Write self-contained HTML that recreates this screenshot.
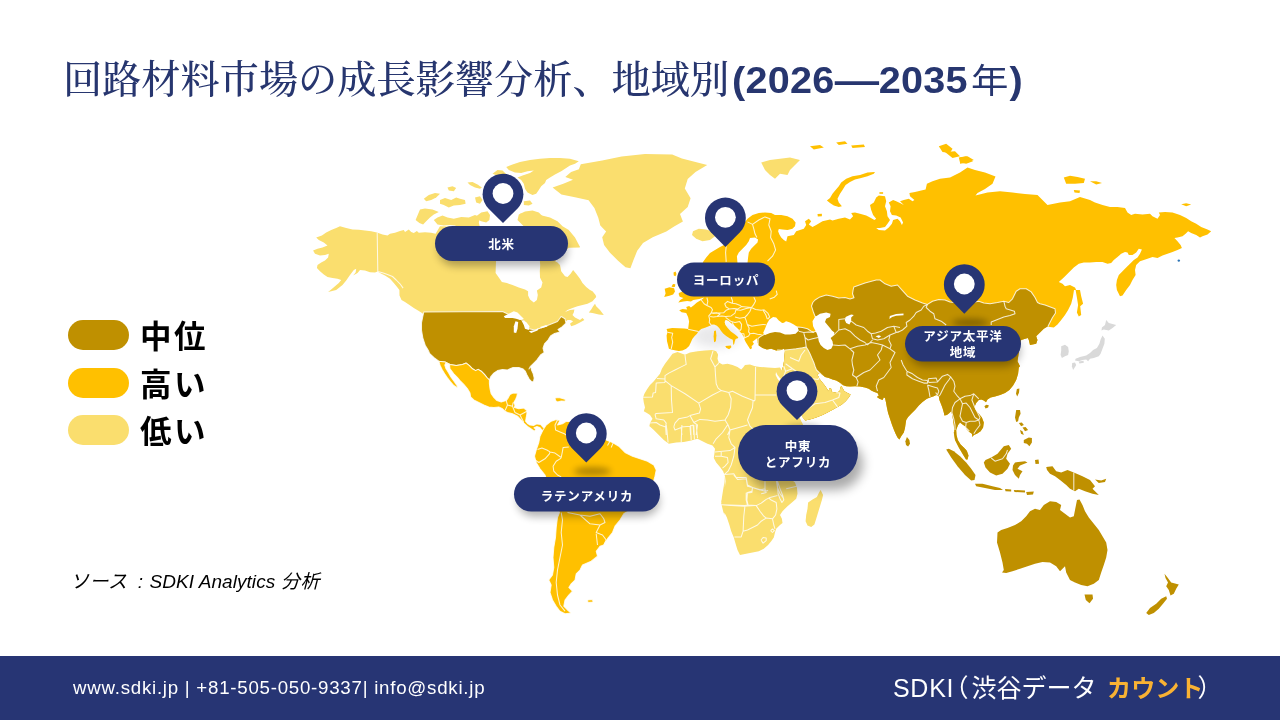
<!DOCTYPE html>
<html lang="ja">
<head>
<meta charset="utf-8">
<title>回路材料市場の成長影響分析、地域別(2026—2035年)</title>
<style>
html,body{margin:0;padding:0;}
body{width:1280px;height:720px;overflow:hidden;background:#fff;position:relative;font-family:"Liberation Sans","Noto Sans CJK JP",sans-serif;}
.title{position:absolute;left:63px;top:52px;margin:0;white-space:nowrap;color:#27366F;font-weight:500;font-size:39.2px;line-height:56px;font-family:"Liberation Serif","Noto Serif CJK JP","Noto Serif CJK SC",serif;letter-spacing:0;}
.title b{display:inline-block;transform:scaleX(1.085);transform-origin:0 50%;font-family:"Liberation Sans","Noto Sans CJK JP",sans-serif;font-weight:700;font-size:36.5px;letter-spacing:.2px;margin-left:2.5px;}
.title .d{display:inline-block;transform:scaleX(1.12);transform-origin:50% 50%;margin:0 2.2px;letter-spacing:0;}
.title .yr{font-family:"Liberation Sans","Noto Sans CJK JP",sans-serif;font-weight:400;font-size:34.5px;letter-spacing:0;margin:0 1px 0 3px;}
.legend{position:absolute;left:68px;top:320px;}
.legend .row{position:absolute;left:0;height:30px;white-space:nowrap;}
.legend .sw{position:absolute;left:0;top:0;width:61px;height:30px;border-radius:15px;}
.legend .tx{position:absolute;left:72px;top:-6px;font-size:31.5px;line-height:46px;font-weight:700;color:#000;letter-spacing:2.5px;font-family:"Liberation Sans","Noto Sans CJK JP",sans-serif;}
.src{position:absolute;left:70px;top:568.5px;font-size:19px;letter-spacing:.45px;line-height:26px;font-style:italic;color:#000;white-space:nowrap;font-family:"Liberation Sans","Noto Sans CJK JP",sans-serif;}
.src .c{margin-left:4.5px;margin-right:.5px;}
.src .la{letter-spacing:.05px;}
.footer{position:absolute;left:0;top:656px;width:1280px;height:64px;background:#273574;}
.footer .l{position:absolute;left:73px;top:19px;color:#fff;font-size:18.7px;letter-spacing:.75px;line-height:26px;white-space:nowrap;}
.footer .r{position:absolute;left:893px;top:16.6px;color:#fff;font-size:25px;line-height:30px;white-space:nowrap;}
.footer .r i{font-style:normal;font-feature-settings:"palt";}
.footer .r .s{letter-spacing:.7px;}
.footer .r .p1{margin-left:-6px;margin-right:3.9px;}
.footer .r b{margin-left:3.6px;font-size:24.1px;}
.footer .r .p2{margin-left:-5px;}
.footer .r b{color:#F9B233;font-weight:700;}
svg{position:absolute;left:0;top:0;}
.lb{font-family:"Liberation Sans","Noto Sans CJK JP",sans-serif;font-weight:700;font-size:12.5px;letter-spacing:.8px;fill:#fff;}
</style>
</head>
<body>
<h1 class="title">回路材料市場の成長影響分析、地域別<b>(2026<span class="d">—</span>2035<span class="yr">年</span>)</b></h1>
<svg width="1280" height="720" viewBox="0 0 1280 720">
<defs>
<filter id="blur3" x="-50%" y="-200%" width="200%" height="500%"><feGaussianBlur stdDeviation="3"/></filter>
<filter id="blur6" x="-20%" y="-50%" width="140%" height="220%"><feGaussianBlur stdDeviation="5.5"/></filter>
<filter id="blur4" x="-20%" y="-50%" width="140%" height="220%"><feGaussianBlur stdDeviation="4.5"/></filter>
</defs>
<ellipse cx="716" cy="336" rx="24" ry="11" fill="#223" opacity=".1" filter="url(#blur6)"/>
<g id="map">
<path fill="#FADE6E" d="M376.9,232.5 371.2,231.2 365.0,230.6 358.8,229.8 352.5,229.4 346.2,228.1 340.0,226.2 336.2,228.1 331.2,230.0 326.2,232.5 321.9,235.6 316.2,237.5 318.8,240.0 323.8,242.5 327.5,245.6 322.5,247.5 317.5,248.8 313.1,250.6 315.0,253.8 320.0,255.6 325.0,255.0 328.8,253.8 328.1,257.5 325.0,260.6 321.2,262.5 317.5,265.0 316.9,268.1 320.0,271.2 323.8,274.4 327.5,276.9 332.5,278.1 337.5,278.8 341.2,280.0 338.8,283.1 335.0,286.2 331.2,289.4 328.1,291.9 336.2,290.0 342.5,285.0 346.2,280.6 350.0,275.0 353.8,270.0 356.2,268.8 355.6,272.5 353.1,275.6 357.5,273.1 360.0,270.0 365.0,270.6 370.0,272.2 375.0,272.5 377.5,271.5 380.0,273.1 385.0,275.6 390.0,278.8 393.8,283.1 397.5,287.5 399.4,290.0 399.5,295.5 401.5,300.0 405.0,302.0 409.5,305.0 413.8,308.0 418.0,310.5 422.0,313.0 423.8,314.5 430.0,325.0 525.0,335.0 550.0,330.0 561.2,320.0 566.2,321.2 567.5,320.0 570.6,320.0 573.1,321.2 570.0,323.8 571.2,326.2 575.0,325.0 580.0,322.5 584.4,320.0 582.5,318.1 580.0,320.0 575.0,317.5 572.5,315.0 573.8,312.5 574.4,309.4 570.0,310.0 565.0,311.9 567.5,310.0 572.5,308.1 577.5,306.2 582.5,305.0 587.5,303.8 592.5,301.2 596.2,296.9 595.6,295.0 592.5,291.2 590.0,290.0 586.2,286.9 582.5,283.1 580.0,278.8 576.2,273.8 573.1,270.0 570.6,273.8 567.5,276.9 565.0,276.2 561.2,271.2 560.0,265.0 557.5,262.5 555.0,261.2 568.8,247.5 580.0,247.5 575.0,241.2 568.8,240.0 568.8,230.0 440.0,226.2 435.6,233.8 431.2,232.8 425.0,232.2 418.8,232.8 416.9,231.0 413.8,233.1 411.2,231.9 408.8,229.4 405.0,231.9 403.8,230.0 400.0,231.0 395.0,232.8 390.0,233.8 387.5,235.6 382.5,234.4Z"/>
<path fill="#FFFFFF" d="M496.2,255.0 495.6,273.1 498.8,277.5 501.9,281.9 506.9,283.1 512.5,285.0 518.8,287.5 525.0,289.4 528.1,291.2 528.1,295.6 530.0,299.4 533.8,302.5 536.9,300.0 537.8,295.0 536.9,290.6 541.2,287.5 542.5,282.5 540.0,277.5 539.8,271.2 540.2,265.0 539.4,255.0Z"/>
<path fill="#FADE6E" d="M595.0,303.8 596.2,306.2 600.0,310.0 603.8,315.0 598.8,314.4 592.5,313.1 588.8,312.5 591.2,309.4 593.1,306.2Z"/>
<path fill="#BF9000" stroke="#fff" stroke-opacity=".82" stroke-width="1.05" stroke-linejoin="round" d="M423.8,312.0 502.5,311.5 508.8,314.5 517.5,318.0 523.8,320.5 528.8,328.8 535.0,330.0 543.8,327.0 550.0,324.5 557.5,321.5 561.2,316.5 565.0,318.8 566.0,323.2 562.0,327.0 558.0,329.5 560.0,332.0 554.5,333.5 550.5,336.0 548.0,340.0 544.5,343.8 543.0,348.2 544.2,352.5 540.5,355.0 536.8,360.0 531.8,365.0 529.0,369.0 530.6,366.0 531.5,370.0 533.2,373.8 534.2,378.1 533.5,381.5 531.8,381.8 529.2,379.0 527.0,375.0 525.2,371.0 523.2,369.0 518.8,367.5 513.1,367.5 510.0,368.8 507.5,370.0 502.5,369.4 497.5,370.6 493.8,373.1 490.6,376.9 489.4,380.0 486.9,377.5 484.4,374.4 481.2,371.2 478.1,369.4 475.6,370.6 472.5,368.8 469.4,365.6 466.2,363.1 462.5,364.4 456.2,365.6 450.0,364.4 445.0,361.9 438.8,361.2 433.8,357.5 430.0,353.8 427.5,350.0 429.0,351.5 425.2,345.2 422.8,337.8 421.5,330.2 421.5,322.8 422.8,316.5Z"/>
<path fill="#FFFFFF" d="M503.8,316.2 508.8,313.8 513.8,311.2 517.5,312.5 521.2,316.2 523.8,318.8 520.0,320.0 516.2,318.8 512.5,318.1 508.8,318.1 505.0,318.1Z"/>
<path fill="#FFFFFF" d="M515.5,321.2 518.2,322.0 517.5,328.8 516.2,333.0 513.8,332.5 513.8,326.2Z"/>
<path fill="#FFFFFF" d="M521.2,320.0 526.2,322.0 529.5,326.2 528.8,330.0 525.0,328.8 523.8,325.0Z"/>
<path fill="#FFFFFF" d="M528.8,331.2 535.0,330.0 538.8,328.0 537.5,330.5 531.2,333.0Z"/>
<path fill="#FFFFFF" d="M540.0,327.0 546.2,325.0 547.5,326.5 541.2,328.2Z"/>
<path fill="#FFC000" stroke="#fff" stroke-opacity=".82" stroke-width="1.05" stroke-linejoin="round" d="M438.8,361.2 440.0,365.2 442.2,369.8 444.8,374.1 447.2,377.5 450.5,381.8 453.8,385.5 457.5,387.9 457.1,385.6 454.0,381.2 450.9,376.9 448.4,372.5 446.0,368.8 444.8,365.0 445.9,363.1 449.4,364.4 450.0,368.8 453.8,373.8 457.5,377.5 460.0,380.6 463.8,384.4 467.5,388.8 470.0,393.1 470.6,396.9 473.8,400.0 478.8,402.5 483.8,405.0 488.8,406.9 493.8,407.5 498.8,406.9 502.5,408.8 505.0,411.2 507.5,412.5 512.5,413.8 517.5,416.2 521.2,420.0 523.8,423.1 527.5,426.5 531.2,429.0 534.4,431.2 535.8,429.2 534.0,427.8 536.9,426.6 539.8,427.4 541.5,429.6 543.1,431.2 545.0,427.8 543.2,427.5 540.8,424.6 536.9,423.9 533.5,425.6 530.0,425.0 527.5,423.5 525.6,421.2 526.2,417.5 526.9,413.8 526.9,410.6 523.8,408.1 518.8,408.8 514.4,407.5 515.0,405.0 513.8,402.5 515.6,399.4 516.9,396.2 517.5,393.1 513.1,393.1 510.0,394.4 508.1,398.1 506.2,400.6 501.2,401.9 496.9,400.6 493.8,397.5 491.2,393.8 490.0,388.8 489.4,383.8 489.4,380.0 486.9,377.5 484.4,374.4 481.2,371.2 478.1,369.4 475.6,370.6 472.5,368.8 469.4,365.6 466.2,363.1 462.5,364.4 456.2,365.6 450.0,364.4 445.0,361.9Z"/>
<path fill="#FFC000" stroke="#fff" stroke-opacity=".82" stroke-width="1.05" stroke-linejoin="round" d="M555.0,398.1 558.8,397.5 562.5,398.5 565.6,399.4 565.0,401.2 561.2,401.0 557.5,401.9 555.6,400.6Z"/>
<path fill="#FADE6E" d="M415.6,220.0 420.0,209.4 425.0,208.5 432.5,209.4 438.8,211.9 433.8,214.4 430.0,217.5 426.2,221.2 423.1,224.4 419.4,223.1Z"/>
<path fill="#FADE6E" d="M433.8,220.0 437.5,217.5 442.5,215.6 447.5,217.5 453.8,218.8 461.2,216.9 468.8,217.5 475.0,215.0 480.0,216.9 478.8,222.5 480.0,227.5 475.0,229.4 467.5,228.5 460.0,228.1 455.0,225.6 450.0,225.0 443.8,225.6 437.5,224.4Z"/>
<path fill="#FADE6E" d="M423.8,198.8 428.8,195.0 435.0,193.1 440.0,193.8 436.2,197.5 431.2,200.0 426.2,201.2Z"/>
<path fill="#FADE6E" d="M440.0,200.0 445.0,198.1 451.2,200.0 456.2,197.5 460.0,198.8 465.0,200.0 465.6,203.8 460.0,205.0 453.8,205.6 448.8,207.5 443.8,205.0 440.0,203.8Z"/>
<path fill="#FADE6E" d="M447.5,187.5 452.5,186.2 456.2,188.1 453.8,191.2 448.8,190.6Z"/>
<path fill="#FADE6E" d="M467.5,182.5 472.5,181.9 477.5,184.4 481.9,187.5 480.0,188.8 475.0,187.5 470.0,185.0Z"/>
<path fill="#FADE6E" d="M475.0,197.5 480.0,196.2 482.5,200.0 480.0,203.8 476.2,202.5Z"/>
<path fill="#FADE6E" d="M476.2,216.2 481.2,212.5 487.5,211.2 490.0,215.0 489.4,220.0 486.2,222.5 481.2,221.2 477.5,219.4Z"/>
<path fill="#FADE6E" d="M506.2,166.9 512.5,164.4 520.0,161.9 530.0,160.0 540.0,158.8 550.0,158.1 560.0,158.1 570.0,158.8 578.8,161.2 575.0,163.8 570.0,165.6 566.2,168.1 561.2,171.2 555.0,174.4 550.0,177.5 546.2,180.0 545.0,183.1 541.2,186.2 538.8,190.0 536.2,193.8 532.5,195.0 527.5,192.5 525.0,188.8 523.8,183.8 521.2,180.0 517.5,177.5 522.5,175.6 530.0,173.1 533.8,170.6 527.5,171.2 521.2,173.1 515.0,172.5 508.8,170.0Z"/>
<path fill="#FADE6E" d="M492.5,173.8 497.5,170.0 502.5,170.6 505.6,173.5 508.8,176.2 505.0,177.5 498.8,176.2Z"/>
<path fill="#FADE6E" d="M523.8,201.2 530.0,200.6 532.5,203.8 528.8,205.6 523.8,205.0Z"/>
<path fill="#FADE6E" d="M517.5,220.0 518.8,214.4 525.0,211.5 532.5,210.6 538.8,212.5 542.5,216.2 547.5,220.0 552.5,223.8 557.5,226.9 560.0,232.5 530.0,232.5Z"/>
<path fill="#FADE6E" d="M520.0,213.8 532.5,211.2 540.0,215.0 550.0,217.5 557.5,221.2 562.5,226.2 568.8,230.0 575.0,237.5 580.0,247.0 568.8,247.5 560.0,242.5 550.0,237.5 540.0,230.0 530.0,225.0 522.5,220.0Z"/>
<path fill="#FADE6E" d="M580.8,164.3 602.2,160.4 621.6,156.5 645.0,154.0 672.2,154.6 681.9,158.5 707.2,164.9 695.5,172.1 687.7,178.9 684.8,188.6 690.6,198.3 687.7,207.1 680.0,213.9 682.9,221.6 674.1,226.5 666.3,231.4 652.7,237.2 643.0,243.0 637.2,250.8 633.3,260.5 630.4,268.3 625.5,267.3 617.8,260.5 610.0,252.7 604.1,245.0 602.2,237.2 606.1,231.4 600.3,225.5 598.3,217.8 594.4,208.0 588.6,200.3 575.0,197.3 561.4,194.4 552.6,187.6 563.3,183.7 573.0,179.8 565.3,176.9 571.1,172.1 578.9,169.2Z"/>
<path fill="#FADE6E" d="M693.0,231.2 698.8,228.8 706.2,229.5 713.8,232.0 715.0,236.2 710.0,240.0 702.5,241.2 696.2,238.8 692.0,235.0Z"/>
<path fill="#FADE6E" d="M761.2,162.5 770.0,160.0 780.0,158.8 790.0,157.5 800.0,160.0 795.0,165.0 790.0,170.0 787.5,175.0 780.0,173.8 775.0,178.8 770.0,175.0 765.0,170.0Z"/>
<path fill="#FFC000" stroke="#fff" stroke-opacity=".82" stroke-width="1.05" stroke-linejoin="round" d="M543.0,430.0 546.2,425.0 551.2,421.2 556.2,419.5 560.0,420.5 557.5,425.0 562.5,423.8 566.2,421.2 572.5,422.0 580.0,425.0 590.0,427.5 600.0,432.5 606.2,440.0 612.5,442.5 618.8,446.2 625.0,452.5 632.5,456.2 640.0,458.8 647.5,461.2 653.8,465.0 656.2,470.0 655.0,476.2 652.5,485.0 645.0,495.0 637.5,503.8 630.0,510.0 623.8,513.8 620.0,520.0 615.0,526.2 612.5,532.5 608.0,538.0 603.8,545.0 600.0,546.2 596.2,551.2 597.5,556.2 591.2,561.2 582.5,565.0 580.0,570.0 576.2,573.8 575.0,580.0 571.2,583.8 568.8,587.5 572.5,591.2 568.8,595.0 565.0,600.0 563.8,606.2 567.5,610.0 571.2,613.0 565.0,613.8 560.0,611.2 556.2,606.2 552.5,600.0 550.0,592.5 551.2,585.0 548.8,580.0 552.5,575.0 553.8,567.5 553.0,557.5 553.8,547.5 555.5,537.5 556.2,527.5 557.5,517.5 559.5,512.5 557.5,507.5 552.5,495.0 547.5,482.5 545.0,475.0 540.0,468.8 536.2,462.5 534.5,456.2 536.2,450.0 538.8,442.5 540.0,436.2Z"/>
<path fill="#FFC000" stroke="#fff" stroke-opacity=".82" stroke-width="1.05" stroke-linejoin="round" d="M587.5,600.0 592.5,599.5 593.0,602.0 588.0,602.5Z"/>
<clipPath id="eu"><path d="M747.5,218.8 752.5,215.0 758.8,213.1 765.0,212.5 771.2,213.1 775.0,215.0 781.2,215.0 787.5,216.2 792.5,218.8 795.6,222.5 795.0,226.2 792.5,228.8 787.5,230.0 782.5,229.4 778.8,229.0 778.1,231.2 779.4,234.4 781.2,237.5 783.8,240.0 786.2,241.5 787.5,236.2 793.8,235.0 796.2,231.2 803.8,228.8 806.2,225.0 805.0,221.2 808.8,218.8 811.2,221.2 808.8,224.4 812.5,226.9 816.2,225.0 822.5,221.2 830.0,219.4 832.5,220.6 838.8,218.8 845.0,217.5 850.0,219.4 853.1,216.2 851.2,213.1 855.0,212.5 860.0,213.8 866.2,215.6 870.0,217.5 874.4,220.0 876.2,218.8 873.1,215.0 871.2,210.0 870.0,205.0 873.8,202.5 876.2,197.5 878.8,195.6 885.0,196.2 886.2,201.2 885.0,206.2 886.9,211.2 887.5,216.2 890.0,220.0 887.5,223.8 885.0,226.9 880.0,228.1 876.2,228.1 878.8,230.0 885.0,230.6 888.8,227.5 891.9,223.8 893.1,220.0 897.5,218.8 900.0,221.2 901.9,225.0 903.1,222.5 900.6,217.5 896.2,215.6 891.9,215.0 890.0,211.2 890.6,206.2 888.8,202.5 893.1,200.0 896.2,201.2 900.0,203.1 903.8,205.0 900.0,201.2 903.8,200.0 908.8,198.8 912.5,201.2 914.4,200.0 910.0,196.2 909.4,193.1 915.0,191.9 921.2,190.6 925.6,189.4 926.9,183.8 932.5,181.2 940.0,178.8 950.0,177.5 960.0,172.5 967.5,167.5 975.0,170.0 985.0,172.5 995.5,176.5 992.5,183.8 985.0,189.0 977.5,193.0 975.5,195.5 987.5,192.5 1000.0,191.2 1012.5,192.5 1025.0,194.0 1037.5,195.0 1040.0,197.5 1047.5,205.0 1060.0,202.5 1070.0,201.2 1080.0,197.0 1090.0,200.0 1095.0,202.5 1102.5,205.0 1110.0,206.9 1117.5,206.9 1125.0,208.1 1127.5,212.5 1131.2,215.0 1135.0,213.8 1142.5,214.4 1150.0,213.8 1152.5,216.2 1157.5,218.8 1160.0,215.0 1158.8,212.5 1165.0,211.9 1172.5,212.5 1180.0,215.0 1186.2,218.1 1191.2,221.2 1196.2,223.8 1201.2,226.9 1207.5,229.4 1211.2,231.2 1207.5,234.4 1202.5,236.2 1200.0,237.5 1196.2,235.0 1191.2,233.1 1188.1,231.2 1185.6,233.8 1182.5,236.2 1177.5,237.5 1174.4,238.1 1177.5,241.2 1180.6,245.0 1181.9,248.1 1177.5,250.0 1172.5,251.9 1167.5,253.8 1162.5,255.6 1157.5,258.1 1152.5,256.9 1147.5,258.8 1143.8,260.0 1140.0,261.2 1136.2,265.0 1135.0,270.0 1135.6,275.0 1132.5,280.0 1130.0,285.0 1126.2,290.0 1122.5,295.6 1120.0,296.2 1116.9,290.0 1116.2,285.0 1116.9,280.0 1118.8,275.0 1122.5,271.2 1126.2,267.5 1130.0,263.8 1133.8,260.0 1137.5,257.5 1140.0,253.8 1141.9,249.4 1138.8,248.8 1136.2,252.5 1132.5,255.0 1128.8,255.0 1127.5,252.5 1125.0,251.9 1121.2,253.8 1117.5,256.9 1113.8,260.0 1111.2,263.1 1107.5,263.8 1102.5,261.9 1096.2,261.9 1090.0,262.5 1083.8,262.5 1078.8,263.8 1073.8,267.5 1068.8,272.5 1063.8,277.5 1058.8,281.9 1062.5,283.8 1065.0,286.2 1070.0,285.0 1075.0,287.5 1076.2,290.0 1075.0,290.0 1074.0,290.0 1072.8,297.5 1071.2,303.8 1068.1,310.0 1065.0,315.0 1061.2,320.0 1057.5,324.4 1053.8,327.5 1050.0,327.1 1047.5,326.5 1043.8,328.8 1040.0,332.5 1036.2,336.2 1037.5,340.0 1036.2,343.8 1030.0,345.0 1028.8,340.0 1027.8,338.1 1021.2,340.0 1020.0,343.8 1018.8,352.5 1017.5,361.2 1020.0,366.2 1018.8,367.5 1018.1,373.8 1016.2,380.0 1013.1,385.6 1009.4,390.0 1005.0,393.1 1000.0,395.0 995.0,396.5 990.6,397.5 987.5,399.4 986.0,402.2 983.8,400.6 981.2,399.4 978.8,400.0 976.2,403.1 974.4,406.9 975.6,410.0 978.8,413.8 981.9,417.5 983.8,422.5 983.1,427.5 980.6,431.2 976.9,433.8 973.8,435.0 972.5,436.9 971.9,433.8 969.4,431.9 966.9,429.4 965.0,426.2 962.5,424.4 960.0,422.5 958.1,425.0 956.9,428.1 956.2,430.0 956.5,435.0 957.8,440.0 960.6,444.4 963.8,447.5 966.2,450.0 967.0,451.2 968.5,455.5 967.5,459.5 966.0,459.5 962.5,453.8 958.8,447.5 955.0,440.0 953.8,432.5 954.4,431.2 953.8,425.0 953.1,420.0 952.2,415.0 951.2,411.2 949.4,413.1 946.9,415.0 944.4,415.6 943.8,412.5 942.5,408.1 941.2,404.4 939.4,400.0 938.8,396.2 936.2,395.0 933.8,396.2 930.0,397.5 926.9,398.8 922.5,401.9 918.8,405.6 915.0,410.0 911.2,413.8 908.1,416.9 906.2,420.0 905.6,423.8 905.0,428.1 903.8,432.5 901.2,436.2 899.4,439.4 897.5,437.5 895.6,433.8 893.8,429.4 891.9,424.4 890.0,418.8 888.1,413.1 886.9,407.5 886.0,402.5 885.0,398.1 883.8,397.5 882.5,400.0 879.4,398.8 876.9,396.9 878.8,395.6 877.5,393.1 874.4,391.9 871.2,390.6 868.8,388.8 865.0,387.5 860.0,386.5 855.0,386.2 850.0,386.5 846.2,386.2 842.5,385.0 840.0,382.8 836.2,380.6 832.5,379.4 828.8,378.1 825.0,376.9 821.9,374.4 820.0,372.5 817.5,374.8 820.2,379.8 822.8,383.1 825.2,385.9 827.1,389.0 828.5,391.2 829.5,388.1 831.2,388.8 831.8,391.8 836.2,392.8 839.6,391.2 840.4,387.5 841.2,385.9 842.5,388.1 844.4,391.2 847.5,393.1 850.6,394.4 848.8,397.5 845.6,401.2 841.9,404.4 837.5,406.9 833.1,409.4 827.5,412.5 822.5,415.0 817.5,416.9 812.5,418.8 807.5,420.0 805.0,420.6 802.5,417.5 798.8,410.0 793.8,400.0 788.8,390.0 783.8,382.5 781.9,379.4 781.5,375.0 781.9,370.6 783.1,366.2 784.0,361.2 784.4,356.2 784.8,352.5 785.0,350.6 783.8,348.8 781.2,350.0 776.2,350.6 771.2,348.8 766.9,349.4 762.5,348.1 758.8,345.6 757.5,342.5 757.5,341.2 757.0,338.9 758.0,337.0 758.1,337.5 756.7,338.4 754.4,340.3 752.5,341.7 753.9,343.6 753.0,345.0 751.6,345.9 752.0,348.3 750.2,349.2 748.8,346.9 746.9,344.1 745.5,341.7 744.5,339.4 743.6,336.6 741.7,333.8 739.4,330.9 736.6,328.1 733.8,325.3 730.9,323.0 728.6,321.1 726.2,319.9 725.5,319.9 724.6,322.0 725.3,324.8 727.7,328.1 730.9,331.4 734.7,334.2 737.5,336.6 738.4,338.0 735.6,338.9 734.7,341.7 734.2,344.1 733.3,345.0 732.8,339.8 730.0,338.4 726.2,336.1 723.4,333.8 721.1,330.9 719.2,328.1 716.9,325.8 714.1,324.6 710.3,324.8 711.1,325.3 708.8,326.2 705.0,327.7 701.2,329.1 698.4,331.4 697.0,333.8 694.7,336.1 692.3,338.9 690.9,342.2 689.1,345.9 686.2,348.8 682.5,350.6 678.8,351.1 675.9,350.6 672.2,349.7 668.9,348.8 668.0,345.0 667.0,341.2 666.6,335.6 667.5,331.9 666.6,329.1 672.2,327.9 678.8,328.3 684.4,328.6 688.1,329.1 688.6,325.3 689.1,321.6 688.1,316.9 686.2,313.1 681.6,312.2 679.2,310.3 682.5,308.9 687.2,309.4 686.2,307.0 689.1,306.1 690.9,307.5 693.8,305.2 696.6,302.8 699.4,300.9 701.2,300.0 704.1,297.7 693.0,290.0 700.0,275.0 703.0,262.0 706.2,257.5 710.0,253.1 715.0,250.0 720.0,246.9 725.0,244.4 730.0,240.0 735.0,234.4 740.0,228.1 745.0,221.9Z"/></clipPath>
<g clip-path="url(#eu)"><rect x="600" y="100" width="700" height="400" fill="#FFC000"/>
<path fill="#BF9000" stroke="#fff" stroke-opacity=".82" stroke-width="1.05" stroke-linejoin="round" d="M758.1,345.0 758.1,338.5 760.0,336.9 763.1,335.0 777.5,327.5 798.1,326.9 802.5,327.5 807.5,328.8 811.2,331.2 813.8,332.1 820.0,330.0 820.0,318.8 815.0,316.2 813.1,311.2 811.5,306.2 812.8,302.5 815.0,300.0 820.0,296.9 826.2,295.0 832.5,296.2 838.8,298.1 845.0,297.5 850.0,299.0 854.0,297.8 852.5,293.8 853.1,290.0 853.8,287.0 865.0,283.0 876.2,280.0 880.0,280.0 885.0,283.8 891.2,286.2 897.5,285.0 902.5,290.6 907.5,296.2 915.0,300.0 922.5,303.1 927.5,304.4 932.5,301.2 938.8,299.4 945.0,300.0 950.0,301.9 965.0,303.8 978.8,301.2 983.8,303.1 990.0,303.8 997.5,302.5 1003.8,301.2 1008.8,302.5 1012.5,298.8 1016.2,291.2 1020.0,288.8 1026.2,288.8 1031.2,291.9 1035.0,297.5 1037.5,302.5 1040.0,303.8 1045.0,305.0 1055.0,308.8 1055.5,313.0 1052.5,317.5 1048.0,326.2 1050.0,331.2 1300.0,400.0 1300.0,720.0 755.0,720.0 755.0,350.0Z"/>
<path fill="#FADE6E" stroke="#fff" stroke-opacity=".82" stroke-width="1.05" stroke-linejoin="round" d="M783.1,350.2 790.0,349.5 796.2,348.8 802.5,347.8 806.2,346.9 808.1,350.0 810.0,353.8 811.9,358.1 813.8,362.5 815.0,366.2 816.5,370.0 821.2,374.4 827.5,380.6 835.0,386.2 838.8,386.2 841.0,384.2 846.2,389.4 852.5,391.2 852.5,437.5 777.5,437.5 777.5,350.0Z"/>
<path fill="#FFFFFF" d="M763.1,333.1 765.0,328.8 766.9,323.8 769.4,319.4 773.1,316.9 776.2,317.5 778.8,320.6 782.5,323.1 786.2,321.2 790.0,322.5 793.8,324.4 797.5,326.9 798.8,330.6 795.6,333.8 790.0,334.4 785.0,334.4 780.0,332.5 775.0,331.9 770.0,333.1 765.0,335.0Z"/>
<path fill="#FFC000" d="M779.4,320.0 782.5,318.8 785.6,320.0 784.4,322.5 781.9,322.8Z"/>
<path fill="#FFFFFF" d="M812.5,321.2 815.0,316.9 820.0,313.8 826.2,312.5 830.6,313.8 830.0,316.9 826.2,318.8 825.0,321.9 827.5,325.0 830.0,328.1 831.9,330.6 834.4,332.5 833.8,335.6 830.6,338.1 832.5,341.2 833.1,345.0 831.2,348.8 827.5,350.0 823.8,348.1 820.6,345.0 818.8,341.2 818.1,337.5 816.9,333.8 815.0,330.0 813.1,326.2Z"/>
<path fill="#FFFFFF" d="M845.6,316.9 848.8,315.6 851.2,314.4 853.8,315.0 851.2,317.5 851.2,321.2 849.4,324.4 846.2,323.1 844.8,320.0Z"/>
<path fill="#FFFFFF" d="M889.4,319.0 889.8,316.0 896.2,314.0 903.5,313.5 903.5,315.2 896.2,315.8 892.1,317.0Z"/>
<path fill="#FFFFFF" d="M875.6,336.2 878.8,335.2 881.2,336.2 878.8,338.1Z"/>
<path fill="#FFFFFF" d="M750.0,238.1 755.0,237.5 758.1,239.4 757.5,242.5 754.4,245.6 751.2,248.8 748.8,252.5 748.1,257.5 747.5,263.1 737.5,263.1 736.9,256.2 738.8,252.5 742.5,248.8 746.2,245.0 748.8,241.2Z"/>
</g>
<path fill="#FADE6E" d="M672.5,353.8 677.5,351.9 685.0,354.8 690.0,352.5 697.5,351.2 705.0,350.6 712.5,350.0 716.2,351.2 718.1,354.4 717.5,358.8 718.8,362.5 722.5,364.4 727.5,363.8 732.5,365.0 737.5,366.9 741.2,369.4 743.1,367.5 745.0,365.0 750.0,364.4 755.0,366.2 760.0,366.9 767.5,367.5 775.0,368.1 780.0,367.5 781.9,370.6 790.0,387.5 801.9,422.2 803.8,426.2 850.0,432.0 800.0,470.0 792.5,480.6 795.0,482.5 796.9,487.5 797.5,493.8 796.2,498.8 792.5,501.9 787.5,506.2 782.5,511.2 780.0,515.0 781.9,518.8 782.5,523.1 780.0,525.0 776.2,528.8 775.0,532.5 773.8,537.5 771.2,541.2 768.1,545.0 763.8,548.8 758.8,551.2 752.5,552.5 746.2,553.8 740.0,555.0 737.5,550.0 735.6,543.8 733.8,537.5 731.2,531.2 729.4,525.0 726.9,517.5 723.8,511.2 721.2,503.8 721.9,497.5 723.1,490.0 724.4,482.5 725.0,475.0 724.4,515.0 723.1,511.2 721.9,506.2 721.2,501.2 722.5,496.2 723.8,491.2 725.0,486.2 725.6,481.2 725.0,476.2 723.1,471.2 720.0,466.9 716.2,462.5 713.8,458.1 714.4,453.8 715.0,448.8 712.5,445.6 707.5,443.8 702.5,441.2 697.5,438.8 691.2,440.6 683.8,441.9 676.2,442.5 668.8,443.8 663.8,440.0 658.8,435.0 653.8,430.0 648.8,425.6 649.4,426.2 650.0,423.1 652.5,418.8 650.0,415.0 646.9,413.1 643.8,411.2 645.0,407.5 643.8,402.5 643.1,397.5 644.4,393.8 646.9,389.4 650.0,385.0 653.8,381.2 656.9,377.5 660.0,373.8 661.9,368.8 665.0,363.8 668.8,358.8Z"/>
<path fill="#FFFFFF" d="M776.0,371.9 777.5,375.0 779.8,378.1 781.9,380.0 783.8,382.5 788.8,390.0 793.8,400.0 798.8,410.0 802.5,417.5 805.2,421.0 804.0,422.5 801.9,421.9 798.8,416.2 793.8,406.2 788.8,396.2 783.8,387.5 780.0,381.9 777.5,378.8 775.6,375.0Z"/>
<path fill="#FADE6E" d="M820.6,490.0 823.1,495.0 821.9,500.0 820.0,506.2 818.1,512.5 816.2,518.8 814.4,524.4 811.2,526.9 807.5,525.6 805.6,521.2 806.2,515.0 807.5,508.8 808.1,502.5 812.5,499.4 816.9,496.9 818.8,493.1Z"/>
<path fill="#FFC000" d="M826.9,200.6 830.0,198.1 832.5,193.8 835.6,190.0 838.8,186.2 841.2,182.5 846.2,178.8 852.5,176.2 860.0,175.0 867.5,172.5 875.0,171.9 873.8,173.8 867.5,176.2 861.2,178.1 855.0,179.4 850.0,181.9 845.6,185.0 842.5,190.0 840.0,193.8 837.5,198.8 838.8,202.5 841.9,206.2 838.8,206.9 833.8,205.6 830.0,203.1Z"/>
<path fill="#FFC000" d="M817.5,214.0 821.9,213.8 821.9,216.2 817.8,216.5Z"/>
<path fill="#FFC000" d="M879.4,192.2 883.1,192.2 883.1,193.8 879.4,193.8Z"/>
<path fill="#FFC000" d="M938.8,146.2 946.2,143.8 952.5,148.8 950.0,153.0 942.5,152.0Z"/>
<path fill="#FFC000" d="M945.0,152.0 955.0,151.2 960.0,156.2 952.5,158.0Z"/>
<path fill="#FFC000" d="M958.8,157.5 966.2,156.2 973.0,161.2 966.2,163.8 960.0,162.5Z"/>
<path fill="#FFC000" d="M810.0,146.2 820.0,145.0 823.8,147.5 813.8,149.5Z"/>
<path fill="#FFC000" d="M836.2,142.5 845.0,141.2 847.5,143.8 838.8,145.0Z"/>
<path fill="#FFC000" d="M851.2,145.5 863.8,144.5 865.0,147.0 852.5,148.0Z"/>
<path fill="#FFC000" d="M1063.8,177.5 1070.0,175.8 1077.5,177.0 1085.0,178.8 1083.8,183.0 1075.0,183.8 1066.2,183.8Z"/>
<path fill="#FFC000" d="M1090.0,181.2 1096.2,181.2 1102.0,183.0 1096.2,184.5Z"/>
<path fill="#FFC000" d="M1073.8,190.0 1080.0,190.5 1079.5,193.0 1074.5,192.5Z"/>
<path fill="#FFC000" d="M1181.2,204.2 1186.2,203.2 1191.2,204.5 1186.2,206.2Z"/>
<path fill="#FFC000" d="M960.0,157.5 967.5,156.2 973.8,160.0 967.5,162.5 960.0,163.8Z"/>
<path fill="#FFC000" d="M1075.6,290.0 1080.0,290.0 1081.2,296.2 1083.1,303.8 1080.2,306.2 1081.2,315.0 1078.8,316.5 1076.9,312.5 1078.1,305.0 1076.9,297.5Z"/>
<path fill="#D9D9D9" d="M1106.2,320.0 1108.8,323.1 1116.2,325.0 1112.5,328.1 1108.8,330.6 1103.8,329.4 1101.5,330.6 1101.9,327.5 1105.0,325.0Z"/>
<path fill="#D9D9D9" d="M1102.5,335.6 1104.8,338.8 1104.4,343.8 1102.5,348.8 1100.6,353.8 1098.8,356.2 1093.8,358.1 1090.0,358.8 1088.1,361.2 1086.2,359.4 1082.5,360.0 1078.8,361.2 1075.0,360.6 1075.6,358.8 1080.0,356.9 1086.2,355.6 1090.0,353.1 1093.1,350.0 1096.9,348.1 1099.4,343.8 1100.6,339.4Z"/>
<path fill="#D9D9D9" d="M1078.8,361.5 1083.5,360.8 1083.8,362.8 1079.4,363.5Z"/>
<path fill="#D9D9D9" d="M1072.2,363.1 1075.0,362.5 1076.2,365.0 1074.4,368.1 1073.1,370.0 1071.9,366.2Z"/>
<path fill="#D9D9D9" d="M1061.2,346.2 1065.0,344.8 1068.1,346.9 1068.8,351.2 1068.1,355.0 1065.0,356.2 1061.9,358.1 1060.6,355.0 1061.2,350.6Z"/>
<path fill="#BF9000" d="M1016.9,389.0 1019.4,388.5 1019.0,392.8 1017.2,396.5 1016.0,393.8Z"/>
<path fill="#BF9000" d="M984.4,406.2 986.2,404.8 988.8,405.2 988.1,407.5 985.6,408.5Z"/>
<path fill="#BF9000" d="M906.9,436.9 909.4,440.0 910.0,443.8 908.1,446.5 906.0,445.0 905.4,441.2Z"/>
<path fill="#BF9000" d="M1016.2,410.0 1020.0,410.0 1020.6,413.8 1018.8,417.5 1018.1,421.2 1016.2,421.9 1015.0,417.5 1015.6,413.8Z"/>
<path fill="#BF9000" d="M1018.8,423.1 1021.9,422.5 1023.8,425.0 1021.2,426.2Z"/>
<path fill="#BF9000" d="M1022.5,427.5 1025.6,426.9 1028.1,430.0 1025.0,431.2Z"/>
<path fill="#BF9000" d="M1020.0,430.0 1022.5,431.2 1023.8,435.0 1021.0,433.8Z"/>
<path fill="#BF9000" d="M1023.8,440.0 1028.8,437.5 1031.9,438.1 1031.9,442.5 1029.4,446.2 1026.9,443.8 1023.8,443.1Z"/>
<path fill="#BF9000" d="M946.2,449.5 951.2,457.5 957.5,466.2 965.0,475.0 971.2,480.5 974.5,480.0 975.5,475.0 971.2,468.8 966.2,462.5 960.0,456.2 953.8,451.2 948.8,448.8Z"/>
<path fill="#BF9000" d="M975.0,483.8 982.5,483.8 992.5,486.2 1000.0,488.0 1003.0,490.0 995.0,490.0 985.0,488.0 976.2,486.2Z"/>
<path fill="#BF9000" d="M1005.0,489.0 1011.2,489.5 1011.2,491.5 1005.5,491.2Z"/>
<path fill="#BF9000" d="M1013.8,490.0 1025.0,490.5 1025.0,492.5 1014.5,492.0Z"/>
<path fill="#BF9000" d="M1026.2,492.0 1033.8,491.5 1033.0,494.5 1027.0,495.0Z"/>
<path fill="#BF9000" d="M985.5,460.0 991.2,457.5 997.5,453.8 1003.8,446.2 1008.8,445.0 1011.2,448.8 1007.5,453.8 1006.2,458.8 1010.0,463.8 1007.5,468.8 1002.5,473.8 996.2,475.5 990.0,472.5 985.5,467.5 983.8,462.5Z"/>
<path fill="#BF9000" d="M1015.0,462.5 1025.0,461.2 1027.5,462.5 1020.0,465.5 1017.5,468.8 1022.5,471.2 1020.0,475.0 1018.8,478.8 1015.0,475.0 1012.5,470.0 1013.0,465.5Z"/>
<path fill="#BF9000" d="M1035.0,460.0 1038.5,459.5 1039.0,463.8 1035.5,464.0Z"/>
<path fill="#BF9000" d="M1046.2,467.0 1052.5,466.2 1056.2,471.2 1061.2,472.5 1067.5,470.0 1073.8,472.5 1082.5,476.2 1090.0,480.0 1095.0,486.2 1092.5,488.8 1098.8,495.0 1092.5,493.8 1085.0,491.2 1078.8,488.8 1075.0,491.2 1070.0,488.8 1066.2,485.0 1060.0,480.0 1055.0,476.2 1050.0,473.8 1047.0,470.0Z"/>
<path fill="#BF9000" d="M1095.0,479.5 1101.2,480.5 1106.2,478.8 1105.0,482.0 1098.8,483.0Z"/>
<path fill="#BF9000" d="M997.5,532.5 997.0,542.5 1000.0,552.5 1002.5,562.5 1003.8,570.0 1002.0,572.5 1006.2,573.0 1012.5,571.2 1020.0,568.8 1027.5,566.2 1035.0,563.8 1042.5,562.0 1050.0,562.5 1056.2,566.2 1060.0,571.2 1062.5,568.8 1065.0,566.2 1066.2,572.5 1070.0,580.0 1075.0,582.5 1081.2,585.0 1087.5,586.2 1093.8,583.8 1098.8,580.0 1101.2,572.5 1103.8,565.0 1106.2,557.5 1107.5,550.0 1106.2,542.5 1102.5,536.2 1098.8,530.0 1093.8,523.8 1088.8,517.5 1085.0,511.2 1082.5,505.0 1079.5,499.5 1077.0,500.0 1075.5,507.5 1073.8,516.2 1070.0,517.5 1065.0,513.8 1060.0,510.0 1061.2,505.0 1056.2,502.0 1050.0,501.2 1043.8,505.0 1040.0,510.0 1035.0,508.8 1030.0,511.2 1026.2,516.2 1021.2,521.2 1015.0,525.0 1007.5,528.0 1001.2,530.0Z"/>
<path fill="#BF9000" d="M1084.5,594.5 1092.5,594.5 1093.0,598.8 1089.5,603.2 1085.8,600.0Z"/>
<path fill="#BF9000" d="M1164.5,573.8 1167.5,577.5 1171.2,582.5 1178.8,584.5 1176.2,588.8 1173.8,593.8 1170.5,595.5 1168.8,590.0 1166.2,586.2 1168.0,582.5 1165.5,578.0Z"/>
<path fill="#BF9000" d="M1146.2,613.0 1150.0,608.0 1156.2,603.8 1161.2,598.8 1166.2,596.2 1167.0,598.8 1163.0,603.8 1158.8,608.8 1153.8,613.0 1148.8,615.0Z"/>
<path fill="#FFC000" d="M664.7,288.8 669.4,287.3 674.1,288.3 675.0,291.6 673.1,294.4 669.4,295.8 664.2,297.0 665.6,293.4Z"/>
<path fill="#FFC000" d="M678.8,293.0 682.5,291.6 688.1,288.8 699.4,290.6 705.0,297.2 699.4,299.1 693.3,300.0 690.9,301.4 687.2,300.9 683.4,301.4 678.3,302.6 680.2,300.0 683.4,298.1 679.7,296.7 678.8,294.4Z"/>
<path fill="#FFC000" d="M673.5,272.5 675.6,271.5 676.5,274.0 675.5,276.2 673.8,275.6Z"/>
<path fill="#FFC000" d="M671.5,286.5 673.0,284.0 675.3,284.2 675.0,286.8 673.0,287.3Z"/>
<path fill="#FFC000" d="M725.3,345.9 730.9,345.5 731.4,347.3 729.1,349.2 726.2,347.8Z"/>
<path fill="#FFC000" d="M714.1,330.9 715.9,330.5 716.4,335.6 715.9,341.2 714.1,342.2 713.6,336.6Z"/>
<path fill="none" stroke="#fff" stroke-opacity=".82" stroke-width="1.05" stroke-linejoin="round" d="M377.2,232.8 377.8,271.5 382.5,272.8 387.5,274.4 392.5,276.5 396.2,280.0 400.0,283.8 403.1,288.1M685.0,355.0 685.6,360.0 686.2,364.4 681.2,366.9 675.0,370.0 668.8,373.1 665.0,375.6 665.0,382.5M656.9,378.5 665.0,379.0M665.0,382.5 656.2,383.1 655.6,392.5 653.1,393.1 652.5,396.9 643.1,397.2M665.0,380.6 671.2,385.6 671.5,400.0 672.5,412.5 656.2,413.5 655.0,414.4M671.2,385.6 685.0,393.8 698.8,403.1 712.5,395.0 721.2,390.6M713.1,350.6 710.6,358.8 715.0,366.9 718.1,363.8 718.8,362.5M715.0,366.9 715.6,376.2 716.2,383.8 718.1,388.1 721.2,390.6 728.8,392.5 732.5,391.2 742.5,396.2 753.1,400.6 755.0,400.6M755.6,366.9 755.0,400.6M755.0,395.0 776.2,395.0M728.8,392.5 731.2,398.8 730.6,407.5 728.1,415.0 725.0,420.0M753.1,400.6 752.5,407.5 749.4,415.0 747.5,420.0 750.0,426.2 755.0,431.2M698.8,403.1 700.6,408.8 699.4,413.1 690.0,415.6 687.5,416.9 678.8,418.8 675.0,423.1 673.8,426.9M690.0,415.6 693.8,422.5 700.0,419.4 707.5,420.0 715.0,421.2 725.0,420.0 728.1,425.0 730.0,430.0 727.5,435.0M655.0,414.4 656.2,418.8 663.8,420.0 666.2,423.1 665.6,426.9 666.2,435.0M650.0,423.1 656.2,422.5 660.0,425.0 665.6,426.9M673.8,426.9 675.0,430.0 681.2,427.5 681.9,435.0M681.2,426.9 690.0,426.2 690.6,435.0M690.0,426.2 693.1,425.0 693.8,435.0M693.8,422.5 697.5,425.0 696.2,435.0M666.2,425.0 666.9,430.0 668.1,442.5M681.9,425.0 681.2,441.9M690.6,425.0 691.2,440.0M693.8,425.0 694.4,439.4M696.2,425.0 697.5,438.1M727.5,425.0 722.5,432.5 716.2,438.8 713.1,443.8M715.0,451.9 722.5,451.2 730.0,450.6 735.0,447.5 731.2,443.8 728.8,437.5 730.0,430.0 738.8,427.5 747.5,425.0M715.0,456.2 721.2,456.2 721.2,451.5M721.2,456.2 727.5,457.5 728.1,462.5 725.0,466.2 722.5,468.1M735.0,447.5 733.8,456.2 731.2,465.0 728.1,471.2 724.4,474.4 733.8,473.8 736.2,477.5 746.2,477.5 747.5,485.0 752.5,487.5 751.9,492.5 746.2,493.1 746.2,500.0 747.5,505.0M722.5,505.0 743.8,506.2 755.0,505.6M752.5,487.5 760.0,490.0 765.0,488.8 766.2,492.5 761.2,493.8M776.2,480.0 777.5,487.5 780.0,493.8 783.8,498.8M721.2,504.8 745.0,505.6 747.5,505.0 756.2,505.6M745.0,505.6 743.8,516.2 743.1,531.2 741.2,536.9 734.4,536.9M743.1,531.2 747.5,530.0 752.5,527.5 757.5,525.0 761.2,521.2 766.2,518.1M756.2,505.6 760.0,511.2 763.8,516.2 766.2,518.1 772.5,518.8 775.6,515.0 776.9,508.8 776.2,502.5 771.2,500.0 768.8,498.1M756.2,505.6 761.2,503.1 766.2,499.4 770.0,497.5 777.5,495.6M772.5,518.8 773.8,525.0 775.0,528.8M770.6,530.6 772.5,529.0 774.4,530.6 772.5,532.5 770.6,530.6M761.0,540.0 763.1,537.5 766.2,538.1 766.2,540.6 763.1,543.1 761.0,540.0M733.8,475.0 737.5,479.4 746.2,478.8 747.5,486.2 752.5,487.5 751.9,491.2 747.5,492.5 746.9,500.0 748.1,505.0M752.5,487.5 765.0,491.2 768.1,490.6M765.0,481.2 765.0,491.2M777.5,481.2 780.0,488.8 782.5,495.0 783.8,500.0 781.9,502.5 780.0,498.8 778.1,493.8 777.5,487.5 777.5,481.2M786.2,488.8 796.9,486.2M688.1,329.2 698.4,331.4M667.5,332.3 672.7,333.3 671.7,337.5 672.7,342.2 671.2,348.8M701.2,300.0 704.1,303.8 706.9,305.6 711.1,307.5 712.5,309.8 711.1,313.1 708.8,315.9 709.7,319.7 709.2,322.5 711.1,324.8M711.1,313.1 716.2,312.7 720.0,314.1 717.2,316.4 713.4,316.9 710.2,316.4M706.9,297.7 707.8,301.4 706.9,305.6M731.2,297.2 732.7,301.4 732.2,303.3 727.5,301.4 724.7,303.8 726.1,307.0 729.4,308.9M732.2,303.3 735.9,303.8 739.7,305.2 741.6,306.6M729.4,308.9 734.1,308.4 737.8,308.9 741.6,306.6 746.2,307.0 751.4,307.5M712.5,313.6 718.1,313.1 723.8,312.7 726.1,310.3 729.4,308.9M717.2,316.4 721.9,315.9 725.6,316.4 731.2,315.9 735.0,313.1 735.9,309.8 737.8,308.9M753.8,297.2 755.6,300.9 753.3,305.2 751.4,307.5M735.9,309.8 740.6,310.3 746.2,308.4 751.4,307.5 750.0,311.2 747.2,315.0 744.8,317.3 746.2,320.6 747.2,324.4M735.0,316.9 739.7,318.3 744.8,317.3M751.4,307.5 755.6,309.4 761.2,310.3 764.1,309.8 767.8,313.1 769.7,316.9 767.8,319.2M763.1,310.3 765.9,315.0 767.3,319.2M747.2,324.4 751.9,326.2 757.5,325.3 763.1,324.4 765.9,324.8M747.2,324.4 749.1,328.1 748.6,331.9 750.0,333.8 753.8,333.3 757.5,334.2 761.7,334.7M725.6,317.3 731.2,321.6 735.0,322.5 739.7,321.6 741.6,324.4 741.1,329.1 739.7,330.9M732.2,322.5 734.1,326.2 737.8,329.5 740.6,330.9M743.0,338.9 745.3,337.5 748.6,336.1 750.0,333.8M741.1,333.8 743.9,333.8 744.4,337.5M769.7,299.1 774.4,297.2 777.2,294.4 776.2,290.6M557.5,420.0 555.0,425.0 555.6,430.0 560.0,431.9 564.4,433.8 566.2,435.0M537.5,449.4 541.9,448.1 546.9,450.0 550.0,451.9M535.0,460.0 538.8,462.5 545.0,458.8 549.4,453.8 550.0,451.9 555.0,453.1 561.2,457.5 562.5,451.2 563.1,447.5 568.8,446.9M561.2,458.1 556.2,461.2 553.1,466.2 553.8,471.2 557.5,475.0 561.2,476.9M606.2,436.9 610.0,441.2 607.5,445.6M613.1,443.1 611.2,447.5M561.2,512.5 562.5,520.0 561.2,532.5 562.5,545.0 560.0,557.5 557.5,570.0 556.2,582.5 557.5,595.0 560.0,605.0 565.0,611.2M567.5,512.5 580.0,515.0 590.0,516.2 600.0,513.8 603.8,518.8 605.0,522.5 600.0,525.0 596.2,532.5 602.5,535.0 606.2,540.0 603.8,545.0M596.2,533.8 597.5,545.0M580.0,515.0 590.0,523.8 600.0,525.0M798.8,331.2 803.8,332.5 808.8,331.9 813.8,332.5M803.8,333.1 805.0,337.5 808.1,340.0 812.5,338.8 818.1,337.5M805.0,337.5 806.2,346.9M833.1,345.0 838.8,345.6 845.0,345.0 850.0,348.8 853.8,352.5 851.9,360.0 852.5,365.0 853.8,370.0 852.5,375.0 856.2,377.5M833.8,335.0 838.8,330.0 838.8,319.4 845.0,318.8M851.2,321.2 856.2,325.0 863.8,327.5 867.5,331.2 871.2,333.8 875.6,333.1 881.2,331.2 887.5,327.5 893.8,326.2 900.0,327.5M838.8,330.0 845.0,328.8 850.0,331.2 855.0,336.2 860.0,340.0 865.0,342.5 867.5,345.0M850.0,348.8 857.5,346.2 865.0,345.0 871.2,342.5 877.5,343.8 882.5,345.0 881.2,350.0 877.5,355.0 880.0,360.0 875.0,365.0 870.0,370.0 863.8,372.5 856.2,377.5M871.2,333.8 872.5,338.8 877.5,340.0 883.8,338.8 890.0,335.0 896.2,332.5 900.0,331.2M867.5,345.0 872.5,340.0M882.5,345.0 890.0,348.8 895.0,352.5 892.5,357.5 890.0,362.5 891.2,367.5 887.5,372.5 883.8,377.5M893.8,326.2 896.2,332.5 890.0,335.0 888.8,340.0 891.2,345.0 890.0,348.8M856.2,377.5 858.1,381.9 856.9,386.2M883.8,377.5 878.8,380.0 876.2,386.2 877.5,391.2M901.2,360.0 903.1,365.0 906.9,371.2 912.5,373.8 917.5,377.5 922.5,380.0 927.5,380.6M906.9,371.9 906.9,375.0 912.5,378.8 918.8,381.2 923.8,383.1 927.5,383.1 927.5,380.6M928.1,378.8 936.2,378.1 937.5,381.9 928.8,382.5 928.1,378.8M937.5,381.9 942.5,376.2 947.5,374.4 950.6,376.9 948.8,380.0 945.0,385.0 942.5,390.0 940.0,395.0 938.8,396.2M927.5,385.0 928.8,390.0 930.0,396.9M927.5,385.0 933.8,386.9 937.5,388.1 938.8,391.2 937.5,395.0 935.6,392.5M950.6,376.9 953.8,381.2 955.0,386.2 953.8,391.2 957.5,396.2 960.0,398.8 955.0,402.5 952.5,407.5 951.9,412.5 953.8,418.8 955.0,425.0 955.0,430.0M960.0,398.8 965.0,396.2 970.0,395.6 973.8,393.8 978.8,398.8M960.0,398.8 962.5,403.8 966.2,403.1 970.0,407.5 972.5,412.5 975.0,417.5 978.8,420.0M973.8,393.8 971.9,400.0 974.4,406.2 977.5,412.5 980.0,417.5 978.8,420.0 980.0,425.0 976.2,430.0 973.8,433.8M966.2,422.5 970.0,421.2 975.0,421.2 978.8,420.0M966.2,422.5 965.6,427.5 969.4,431.2M962.5,403.8 961.2,410.0 960.0,416.2 962.5,421.2 966.2,422.5M927.5,304.4 926.2,307.5 930.0,311.2 933.8,313.8 935.0,318.8 941.2,321.2 946.2,325.0M1003.8,301.2 1005.0,306.2 1006.2,308.8 1014.4,311.2 1015.0,313.8 1010.0,315.6 1003.8,316.9 997.5,319.4 991.2,321.9 991.2,325.0M927.5,304.4 923.8,306.2 921.2,310.0 916.2,312.5 913.8,316.2 910.0,320.0 906.2,322.5 906.9,326.2 902.5,330.0 897.5,332.5M991.2,458.0 995.0,461.2 1002.5,458.8 1006.2,453.8 1007.5,450.0M1073.8,472.5 1073.8,490.5M783.8,366.2 785.6,371.2 783.1,378.1M785.6,371.2 792.5,368.8 796.2,371.2 791.2,375.0 788.8,378.8 783.1,379.4M790.0,357.5 798.8,361.2 801.2,355.0 805.0,350.0M785.6,363.8 792.5,368.8M796.2,371.2 805.0,373.8 812.5,378.8 818.1,379.4 820.0,376.9M807.5,408.8 815.0,403.8 825.0,402.5 832.5,400.0 838.8,397.5 840.0,393.1 836.2,392.8M832.5,400.0 837.5,406.9M506.2,400.6 507.5,405.0 512.5,406.2 513.1,402.5M507.5,405.0 505.0,410.6M512.5,406.2 515.0,412.5 520.0,415.0 526.9,411.2M520.0,415.0 523.8,422.5M526.2,417.5 530.0,425.0M747.5,221.9 752.5,224.4 753.8,228.8 755.0,233.8 756.9,237.5M752.5,224.4 758.8,220.0 765.0,216.9 770.0,218.8 768.8,225.0 771.2,231.2 770.6,237.5 773.8,243.8 775.6,250.0 772.5,256.2 767.5,261.2M726.2,246.2 725.6,252.5 726.2,261.9"/>
</g>
<circle cx="1178.8" cy="260.6" r="1.2" fill="#2E75B6"/>
<g id="labels">
<path d="M503.00,222.90 L488.65,208.70 A20.40,20.40 0 1 1 517.35,208.70 Z" fill="#273574"/><circle cx="503.00" cy="193.50" r="10.4" fill="#fff"/><rect x="438.5" y="235.0" width="129.0" height="31.0" rx="17.5" fill="#000" opacity="0.3" filter="url(#blur4)"/><rect x="435.0" y="226.0" width="133.0" height="35.0" rx="17.5" fill="#273574"/><text x="501.5" y="248.7" text-anchor="middle" class="lb">北米</text><path d="M725.40,247.10 L710.85,232.30 A20.40,20.40 0 1 1 739.95,232.30 Z" fill="#273574"/><circle cx="725.40" cy="217.30" r="10.4" fill="#fff"/><rect x="677.0" y="262.5" width="98.0" height="34.0" rx="17.0" fill="#273574"/><text x="726.0" y="285.4" text-anchor="middle" class="lb">ヨーロッパ</text><ellipse cx="970.3" cy="322.7" rx="18.5" ry="4.3" fill="#000" opacity=".3" filter="url(#blur3)"/><path d="M964.30,313.70 L949.80,299.05 A20.40,20.40 0 1 1 978.80,299.05 Z" fill="#273574"/><circle cx="964.30" cy="284.00" r="10.4" fill="#fff"/><rect x="908.5" y="335.0" width="112.0" height="31.5" rx="17.8" fill="#000" opacity="0.3" filter="url(#blur4)"/><rect x="905.0" y="326.0" width="116.0" height="35.5" rx="17.8" fill="#273574"/><text x="963.0" y="340.9" text-anchor="middle" class="lb">アジア太平洋</text><text x="963.0" y="357.1" text-anchor="middle" class="lb">地域</text><ellipse cx="803.0" cy="429.1" rx="18.5" ry="4.3" fill="#000" opacity=".3" filter="url(#blur3)"/><path d="M797.00,420.10 L782.60,405.75 A20.40,20.40 0 1 1 811.40,405.75 Z" fill="#273574"/><circle cx="797.00" cy="390.60" r="10.4" fill="#fff"/><rect x="747.0" y="438.0" width="116.0" height="52.0" rx="28.0" fill="#000" opacity="0.33" filter="url(#blur6)"/><rect x="738.0" y="425.0" width="120.0" height="56.0" rx="28.0" fill="#273574"/><text x="798.0" y="450.9" text-anchor="middle" class="lb">中東</text><text x="798.0" y="467.2" text-anchor="middle" class="lb">とアフリカ</text><ellipse cx="592.3" cy="471.4" rx="18.5" ry="4.3" fill="#000" opacity=".3" filter="url(#blur3)"/><path d="M586.30,462.40 L571.95,448.20 A20.40,20.40 0 1 1 600.65,448.20 Z" fill="#273574"/><circle cx="586.30" cy="433.00" r="10.4" fill="#fff"/><rect x="517.5" y="486.0" width="142.0" height="30.5" rx="17.2" fill="#000" opacity="0.3" filter="url(#blur4)"/><rect x="514.0" y="477.0" width="146.0" height="34.5" rx="17.2" fill="#273574"/><text x="587.0" y="500.5" text-anchor="middle" class="lb">ラテンアメリカ</text>
</g>
</svg>
<div class="legend">
<div class="row" style="top:0"><span class="sw" style="background:#BF9000"></span><span class="tx">中位</span></div>
<div class="row" style="top:47.5px"><span class="sw" style="background:#FFC000"></span><span class="tx">高い</span></div>
<div class="row" style="top:95px"><span class="sw" style="background:#FADE6E"></span><span class="tx">低い</span></div>
</div>
<div class="src">ソース<span class="c"> : </span><span class="la">SDKI Analytics</span> 分析</div>
<div class="footer">
<div class="l">www.sdki.jp | +81-505-050-9337| info@sdki.jp</div>
<div class="r"><span class="s">SDKI</span> <i class="p1">（</i>渋谷データ <b>カウント</b><i class="p2">）</i></div>
</div>
</body>
</html>
